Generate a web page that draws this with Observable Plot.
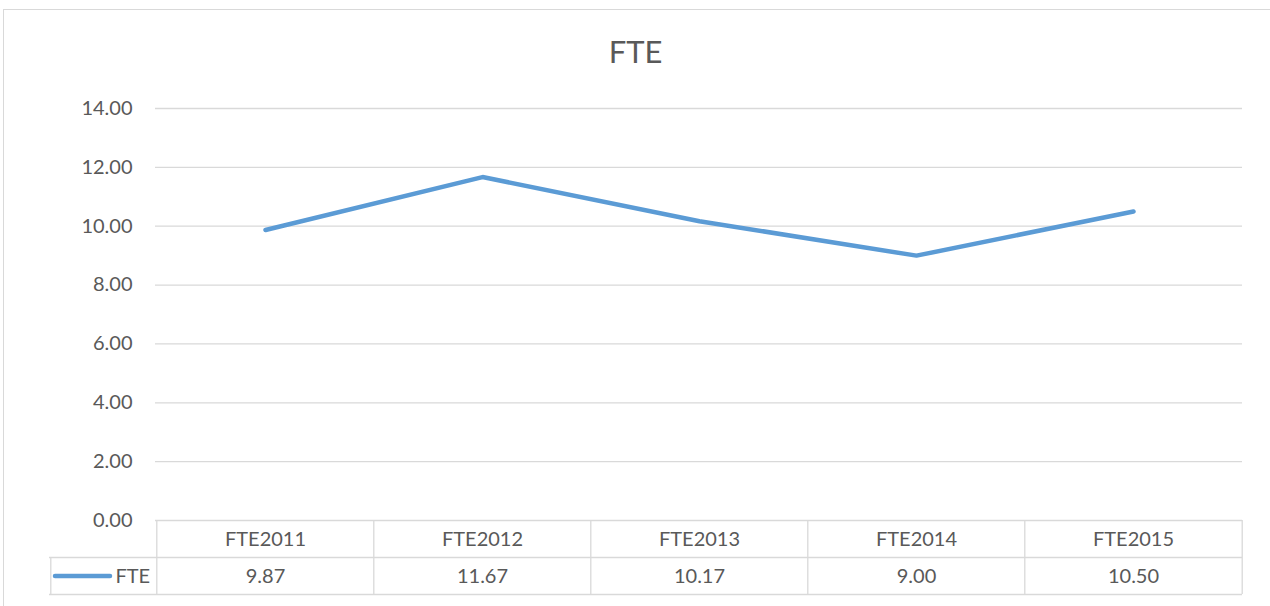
<!DOCTYPE html>
<html>
<head>
<meta charset="utf-8">
<script src="https://cdn.jsdelivr.net/npm/d3@7"></script>
<script src="https://cdn.jsdelivr.net/npm/@observablehq/plot@0.6"></script>
<style>
  html, body { margin: 0; padding: 0; background: #fff; overflow: hidden; }
  #wrap { position: relative; width: 1270px; height: 606px; }
  #border { position: absolute; left: 3px; top: 9px; width: 1290px; height: 640px;
            border: 1.5px solid #d9d9d9; box-sizing: border-box; pointer-events: none; }
  svg { position: absolute; left: 0; top: 0; }
</style>
</head>
<body>
<div id="wrap"><div id="border"></div></div>
<script>
// ---- data ----
const title = "FTE";
const seriesName = "FTE";
const categories = ["FTE2011", "FTE2012", "FTE2013", "FTE2014", "FTE2015"];
const values = [9.87, 11.67, 10.17, 9.00, 10.50];
const yTicks = [0, 2, 4, 6, 8, 10, 12, 14];

// ---- layout ----
const W = 1270, H = 606;
const mL = 155, mR = 28, mT = 108, mB = 86;
const frameW = W - mL - mR, frameH = H - mT - mB;
const step = frameW / categories.length;
const rowH = 37;          // table row height
const legendW = 106;      // legend column width
const gray = "#595959", lineGray = "#d9d9d9", blue = "#5b9bd5";
const fmt = d3.format(".2f");

const data = categories.map((c, i) => ({cat: c, value: values[i]}));

const chart = Plot.plot({
  width: W, height: H,
  marginLeft: mL, marginRight: mR, marginTop: mT, marginBottom: mB,
  style: {fontFamily: "Lato, 'Open Sans', sans-serif", fontSize: "20px", color: gray, background: "transparent"},
  x: {type: "point", domain: categories, padding: 0.5, axis: null},
  y: {domain: [0, 14], ticks: yTicks, tickFormat: fmt, tickSize: 0, tickPadding: 23, label: null},
  marks: [
    Plot.ruleY(yTicks, {stroke: lineGray, strokeWidth: 1.3}),
    // table horizontal lines
    Plot.ruleY([0], {stroke: lineGray, strokeWidth: 1.3, dy: rowH, insetLeft: -legendW}),
    Plot.ruleY([0], {stroke: lineGray, strokeWidth: 1.3, dy: 2 * rowH, insetLeft: -legendW}),
    // table vertical lines
    Plot.ruleX(categories, {x: d => d, dx: -step / 2, stroke: lineGray, strokeWidth: 1.3, insetTop: frameH, insetBottom: -2 * rowH}),
    Plot.ruleX(categories.slice(-1), {x: d => d, dx: step / 2, stroke: lineGray, strokeWidth: 1.3, insetTop: frameH, insetBottom: -2 * rowH}),
    Plot.ruleX(categories.slice(0, 1), {x: d => d, dx: -step / 2 - legendW, stroke: lineGray, strokeWidth: 1.3, insetTop: frameH + rowH, insetBottom: -2 * rowH}),
    // table text
    Plot.text(categories, {x: d => d, frameAnchor: "bottom", lineAnchor: "middle", dy: rowH / 2 + 1, fill: gray, fontSize: 20}),
    Plot.text(data, {x: "cat", text: d => fmt(d.value), frameAnchor: "bottom", lineAnchor: "middle", dy: rowH * 1.5 + 1, fill: gray, fontSize: 20}),
    // legend key
    Plot.ruleY([0], {dy: rowH * 1.5, insetLeft: -100, insetRight: frameW + 45, stroke: blue, strokeWidth: 4.5, strokeLinecap: "round"}),
    Plot.text([seriesName], {frameAnchor: "bottom-left", lineAnchor: "middle", dx: -40, dy: rowH * 1.5 + 1, textAnchor: "start", fill: gray, fontSize: 20}),
    // series line
    Plot.line(data, {x: "cat", y: "value", stroke: blue, strokeWidth: 4.5, strokeLinecap: "round", strokeLinejoin: "miter"}),
    // title (centred on the whole chart area)
    Plot.text([title], {frameAnchor: "top", lineAnchor: "middle", dx: W / 2 - (mL + frameW / 2), dy: -55, fill: gray, fontSize: 31})
  ]
});
chart.querySelectorAll("g[aria-label='y-axis tick label'] text, g[aria-label='y-axis'] text").forEach(t => t.setAttribute("fill", gray));
document.getElementById("wrap").appendChild(chart);
</script>
</body>
</html>
